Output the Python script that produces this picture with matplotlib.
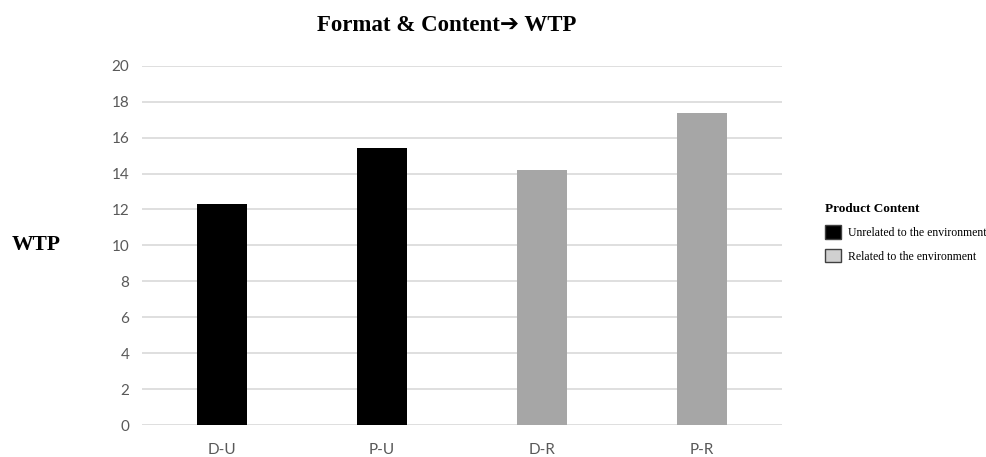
import matplotlib.pyplot as plt
from matplotlib.patches import Patch

categories = ["D-U", "P-U", "D-R", "P-R"]
wtp = [12.3, 15.45, 14.2, 17.35]
content = ["Unrelated", "Unrelated", "Related", "Related"]
y_ticks = [0, 2, 4, 6, 8, 10, 12, 14, 16, 18, 20]

bar_colors = {"Unrelated": "#000000", "Related": "#a6a6a6"}

fig = plt.figure(figsize=(9.86, 4.57), dpi=100)
ax = fig.add_axes([0.144, 0.070, 0.649, 0.786])

x = range(len(categories))
ax.bar(x, wtp, width=0.31, color=[bar_colors[c] for c in content], zorder=3)

ax.set_xlim(-0.5, len(categories) - 0.5)
ax.set_ylim(0, 20)
ax.set_yticks(y_ticks)
ax.set_xticks(list(x))
ax.set_xticklabels(categories)
ax.grid(axis="y", color="#d9d9d9", linewidth=1.2, zorder=0)
for s in ax.spines.values():
    s.set_visible(False)
ax.tick_params(length=0, labelsize=11, labelcolor="#595959")
ax.tick_params(axis="x", pad=13)
ax.tick_params(axis="y", pad=9)
for lab in ax.get_xticklabels() + ax.get_yticklabels():
    lab.set_family("Lato")

serif = ["Liberation Serif", "DejaVu Serif"]
# heavy arrow comes from DejaVu Sans (Liberation Serif has no such glyph)
fig.text(0.453, 0.945, "Format & Content\u2794 WTP", ha="center", va="center",
         fontsize=16.5, fontweight="bold", family=["Liberation Serif", "DejaVu Sans"])
fig.text(0.037, 0.463, "WTP", ha="center", va="center",
         fontsize=15.5, fontweight="bold", family=serif)

handles = [Patch(facecolor="#000000", edgecolor="#404040", label="Unrelated to the environment"),
           Patch(facecolor="#d0d0d0", edgecolor="#404040", label="Related to the environment")]
leg = fig.legend(handles=handles, title="Product Content", loc="upper left",
                 bbox_to_anchor=(0.837, 0.555), frameon=False,
                 prop={"family": serif, "size": 8.5},
                 handlelength=1.35, handleheight=1.35, handletextpad=0.6,
                 labelspacing=0.85, borderaxespad=0, borderpad=0)
leg.get_title().set_family(serif)
leg.get_title().set_fontweight("bold")
leg.get_title().set_fontsize(9.5)
leg._legend_box.align = "left"

fig.savefig("out.png", dpi=100)
